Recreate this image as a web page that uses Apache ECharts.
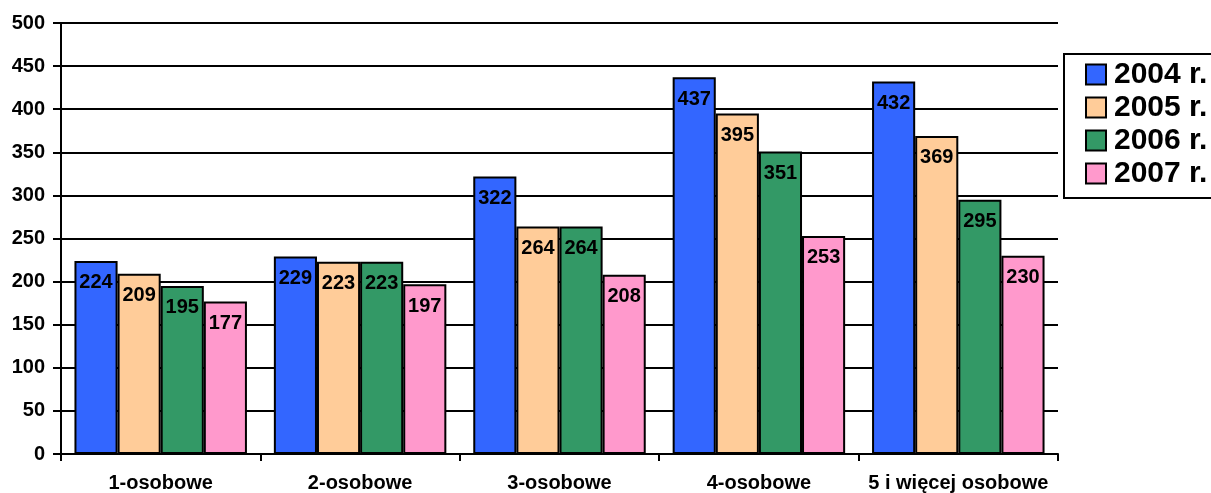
<!DOCTYPE html>
<html><head><meta charset="utf-8">
<script src="https://cdn.jsdelivr.net/npm/echarts@6/dist/echarts.min.js"></script>
<style>html,body{margin:0;padding:0;background:#fff}#c{width:1211px;height:493px}</style>
</head><body><div id="c"></div>
<script>
var categories = ['1-osobowe', '2-osobowe', '3-osobowe', '4-osobowe', '5 i więcej osobowe'];
var seriesNames = ['2004 r.', '2005 r.', '2006 r.', '2007 r.'];
var v2004 = [224, 229, 322, 437, 432];
var v2005 = [209, 223, 264, 395, 369];
var v2006 = [195, 223, 264, 351, 295];
var v2007 = [177, 197, 208, 253, 230];
var colors = ['#3366FF', '#FFCC99', '#339966', '#FF99CC'];
var values = [v2004, v2005, v2006, v2007];
var FONT = 'Arial, "Liberation Sans", sans-serif';

var chart = echarts.init(document.getElementById('c'));
chart.setOption({
  animation: false,
  backgroundColor: '#fff',
  grid: { left: 61, right: 153, top: 23, bottom: 39, containLabel: false },
  graphic: [{
    type: 'rect', left: 1063, top: 53, z: 0,
    shape: { width: 200, height: 144 },
    style: { fill: '#fff', stroke: '#000', lineWidth: 2 }
  }],
  legend: {
    orient: 'vertical',
    left: 1064, top: 54, z: 10,
    padding: [4, 0, 6, 21],
    icon: 'rect',
    itemWidth: 20, itemHeight: 20, itemGap: 0,
    textStyle: { fontFamily: FONT, fontWeight: 'bold', fontSize: 30, color: '#000', lineHeight: 33, padding: [0, 0, 0, 3] },
    data: seriesNames
  },
  xAxis: {
    type: 'category', data: categories,
    axisLine: { lineStyle: { color: '#000', width: 2 } },
    axisTick: { show: true, length: 7, lineStyle: { color: '#000', width: 2 } },
    axisLabel: { interval: 0, fontFamily: FONT, fontWeight: 'bold', fontSize: 20, color: '#000', margin: 19 }
  },
  yAxis: {
    type: 'value', min: 0, max: 500, interval: 50,
    axisLine: { show: true, lineStyle: { color: '#000', width: 2 } },
    axisTick: { show: true, length: 8, lineStyle: { color: '#000', width: 2 } },
    axisLabel: { fontFamily: FONT, fontWeight: 'bold', fontSize: 20, color: '#000', margin: 16 },
    splitLine: { lineStyle: { color: '#000', width: 2 } }
  },
  series: seriesNames.map(function (n, i) {
    return {
      name: n, type: 'bar', data: values[i],
      barGap: '0%', barCategoryGap: '13.5%',
      itemStyle: { color: colors[i], borderColor: '#000', borderWidth: 2 },
      label: { show: true, position: 'insideTop', distance: 12, fontFamily: FONT, fontWeight: 'bold', fontSize: 20, color: '#000' }
    };
  })
});
</script></body></html>
